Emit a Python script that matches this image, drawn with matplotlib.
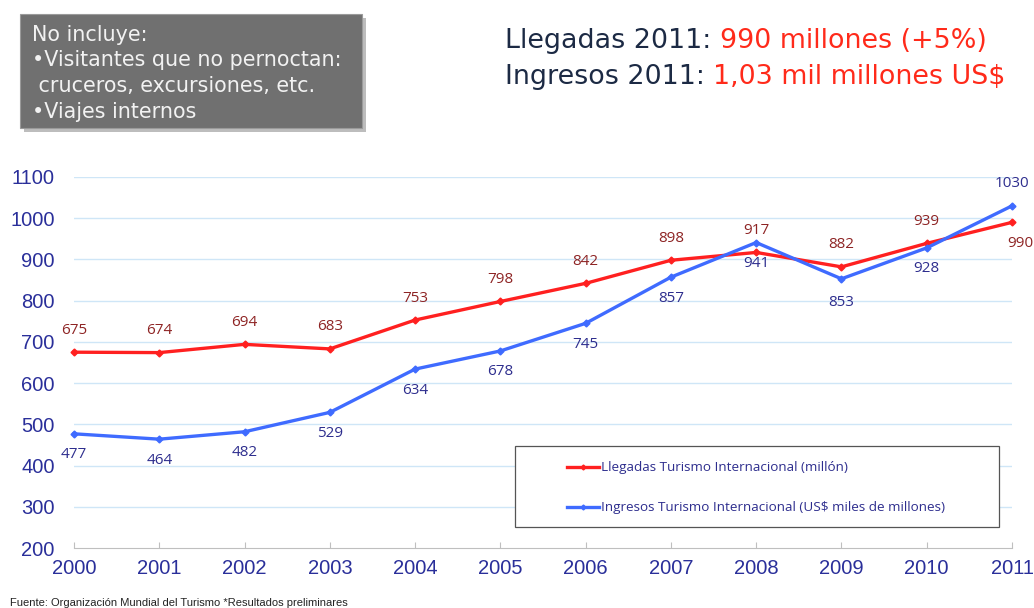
import matplotlib
matplotlib.use("Agg")
import matplotlib.pyplot as plt
from matplotlib.patches import Rectangle
from matplotlib.lines import Line2D

years = ["2000", "2001", "2002", "2003", "2004", "2005", "2006", "2007", "2008", "2009", "2010", "2011"]
llegadas = [675, 674, 694, 683, 753, 798, 842, 898, 917, 882, 939, 990]
ingresos = [477, 464, 482, 529, 634, 678, 745, 857, 941, 853, 928, 1030]
yticks = [200, 300, 400, 500, 600, 700, 800, 900, 1000, 1100]

# label offsets in pixels (dx, dy) - style only
off_red = [(0, 22)] * 10 + [(0, 22), (8, -21)]
off_blue = [(0, -21)] * 8 + [(0, -21), (0, -24), (0, -21), (0, 22)]

RED = "#FF2020"
BLUE = "#3F6BFF"
LBL_RED = "#8E2424"
LBL_BLUE = "#2E2E8E"
TICK = "#2A2F9A"

fig = plt.figure(figsize=(10.34, 6.08), dpi=100)
ax = fig.add_axes([74/1034, 1-548/608, (1012-74)/1034, (548-177)/608])
x = list(range(len(years)))

for v in yticks[1:]:
    ax.axhline(v, color="#CFE6F7", lw=1.0, zorder=0)
ax.plot(x, llegadas, color=RED, lw=2.4, marker="D", ms=3.5, zorder=3, clip_on=False)
ax.plot(x, ingresos, color=BLUE, lw=2.4, marker="D", ms=3.5, zorder=3, clip_on=False)

ax.set_xlim(0, 11)
ax.set_ylim(200, 1100)
ax.set_yticks(yticks)
ax.set_xticks(x)
ax.set_xticklabels(years)
for s in ["top", "right", "left"]:
    ax.spines[s].set_visible(False)
ax.spines["bottom"].set_color("#BFBFBF")
ax.tick_params(axis="y", length=0, pad=14, labelsize=14.5, labelcolor=TICK)
ax.tick_params(axis="x", direction="in", length=4, color="#BFBFBF", pad=8, labelsize=14.5, labelcolor=TICK)
for lbl in ax.get_yticklabels() + ax.get_xticklabels():
    lbl.set_family("Liberation Sans")

for i, v in enumerate(llegadas):
    dx, dy = off_red[i]
    ax.annotate(str(v), (i, v), xytext=(dx*0.72, dy*0.72), textcoords="offset points",
                ha="center", va="center", color=LBL_RED, fontsize=11, family="Open Sans",
                annotation_clip=False)
for i, v in enumerate(ingresos):
    dx, dy = off_blue[i]
    ax.annotate(str(v), (i, v), xytext=(dx*0.72, dy*0.72), textcoords="offset points",
                ha="center", va="center", color=LBL_BLUE, fontsize=11, family="Open Sans",
                annotation_clip=False)

# legend box
lx0, ly0, lx1, ly1 = 515/1034, 1-527/608, 999/1034, 1-446/608
fig.patches.append(Rectangle((lx0, ly0), lx1-lx0, ly1-ly0, transform=fig.transFigure,
                             facecolor="white", edgecolor="#555555", lw=0.9, zorder=5))
for yy, col, txt in [(467, RED, "Llegadas Turismo Internacional (millón)"),
                     (507, BLUE, "Ingresos Turismo Internacional (US$ miles de millones)")]:
    fy = 1-yy/608
    fig.lines.append(Line2D([567/1034, 583/1034, 599/1034], [fy, fy, fy], transform=fig.transFigure,
                            color=col, lw=2.4, marker="D", ms=2.5, markevery=[1], zorder=6))
    fig.text(601/1034, fy, txt, color=LBL_BLUE, fontsize=9.7, family="Open Sans",
             va="center", ha="left", zorder=6)

# gray note box with shadow
bx0, by0, bx1, by1 = 20/1034, 1-128/608, 362/1034, 1-14/608
fig.patches.append(Rectangle((bx0+4/1034, by0-4/608), bx1-bx0, by1-by0, transform=fig.transFigure,
                             facecolor="#BDBDBD", edgecolor="none", zorder=1))
fig.patches.append(Rectangle((bx0, by0), bx1-bx0, by1-by0, transform=fig.transFigure,
                             facecolor="#707070", edgecolor="#9A9A9A", lw=0.8, zorder=2))
note = ["No incluye:", "•Visitantes que no pernoctan:", " cruceros, excursiones, etc.", "•Viajes internos"]
for k, line in enumerate(note):
    fig.text(32/1034, 1-(35 + k*25.5)/608, line, color="#F2F2F2", fontsize=14.9,
             family="DejaVu Sans", va="center", ha="left", zorder=3)

# headline
NAVY = "#1C2A44"
HRED = "#FF2A1A"
for yy, a, b in [(41, "Llegadas 2011: ", "990 millones (+5%)"),
                 (77, "Ingresos 2011: ", "1,03 mil millones US$")]:
    t1 = fig.text(505/1034, 1-yy/608, a, color=NAVY, fontsize=19.4, family="DejaVu Sans",
                  va="center", ha="left")
    fig.canvas.draw()
    bb = t1.get_window_extent()
    fig.text(bb.x1/1034, 1-yy/608, b, color=HRED, fontsize=19.4, family="DejaVu Sans",
             va="center", ha="left")

fig.text(10/1034, 1-603/608, "Fuente: Organización Mundial del Turismo *Resultados preliminares",
         fontsize=8, family="Liberation Sans", color="#222222", va="center", ha="left")

fig.savefig("out.png", dpi=100)
